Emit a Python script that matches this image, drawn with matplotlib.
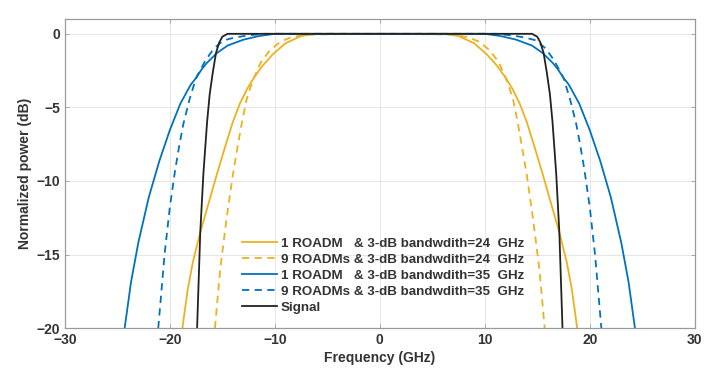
import matplotlib
matplotlib.use("Agg")
import matplotlib.pyplot as plt
import numpy as np

# half-width (GHz) vs. normalized power (dB), curves are symmetric about 0
f_1r24 = [0, 6.0, 7.5, 9.0, 10.2, 11.2, 12.0, 12.6, 13.3, 14.0, 14.7, 15.5, 16.3, 17.1, 17.8, 18.3, 18.8]
p_1r24 = [0, 0, -0.15, -0.65, -1.4, -2.2, -3.0, -3.7, -4.7, -6.0, -7.6, -9.5, -11.5, -13.5, -15.5, -17.4, -20]

f_9r24 = [0, 7.0, 8.5, 9.5, 10.5, 11.3, 12.0, 12.35, 12.7, 13.1, 13.5, 14.0, 14.6, 15.2, 15.7]
p_9r24 = [0, -0.05, -0.25, -0.55, -1.15, -1.9, -3.0, -3.7, -4.5, -5.9, -7.5, -9.6, -12.6, -16.0, -20]

f_1r35 = [0, 10.0, 11.5, 13.0, 14.5, 15.5, 16.5, 17.0, 17.5, 18.0, 19.0, 20.0, 21.0, 22.0, 23.0, 23.7, 24.3]
p_1r35 = [0, 0, -0.15, -0.4, -0.8, -1.3, -2.0, -2.45, -3.0, -3.45, -4.75, -6.55, -8.65, -11.1, -14.2, -16.9, -20]

f_9r35 = [0, 11.0, 12.5, 13.8, 14.9, 15.8, 16.6, 17.5, 18.1, 18.7, 19.1, 19.5, 20.0, 20.5, 21.1]
p_9r35 = [0, 0, -0.1, -0.25, -0.45, -1.0, -1.8, -3.0, -4.4, -6.1, -7.6, -9.3, -11.8, -15.0, -20]

f_sig = [0, 14.5, 15.0, 15.3, 15.6, 15.9, 16.2, 16.45, 16.8, 17.1, 17.4]
p_sig = [0, 0, -0.2, -0.6, -1.3, -2.6, -4.1, -6.0, -9.5, -13.5, -20]

labels = [
    "1 ROADM   & 3-dB bandwdith=24  GHz",
    "9 ROADMs & 3-dB bandwdith=24  GHz",
    "1 ROADM   & 3-dB bandwdith=35  GHz",
    "9 ROADMs & 3-dB bandwdith=35  GHz",
    "Signal",
]

_BLUE = "#0072BD"
_YELLOW = "#EDB120"
_TEXT = "#333333"
_AXIS = "#9a9a9a"


def _mirror(f, p):
    f = np.asarray(f, dtype=float)
    p = np.asarray(p, dtype=float)
    return np.concatenate([-f[::-1], f[1:]]), np.concatenate([p[::-1], p[1:]])


plt.rcParams["font.family"] = ["Liberation Sans", "DejaVu Sans"]
plt.rcParams["font.weight"] = "bold"

fig = plt.figure(figsize=(7.2, 3.82), dpi=100)
ax = fig.add_axes([0.090, 0.141, 0.875, 0.809])

curves = [
    (f_1r24, p_1r24, _YELLOW, "-"),
    (f_9r24, p_9r24, _YELLOW, (0, (4, 3))),
    (f_1r35, p_1r35, _BLUE, "-"),
    (f_9r35, p_9r35, _BLUE, (0, (4, 3))),
    (f_sig, p_sig, "#222222", "-"),
]
for (f, p, c, ls), lab in zip(curves, labels):
    x, y = _mirror(f, p)
    ax.plot(x, y, color=c, linestyle=ls, linewidth=1.3, label=lab)

ax.set_xlim(-30, 30)
ax.set_ylim(-20, 1)
ax.set_xticks(np.arange(-30, 31, 10))
ax.set_yticks(np.arange(-20, 1, 5))
ax.grid(True, color="#e6e6e6", linewidth=0.7)
ax.set_axisbelow(True)

ax.tick_params(direction="in", top=True, right=True, length=3,
               color=_AXIS, labelcolor=_TEXT, labelsize=10, width=0.6)
for s in ax.spines.values():
    s.set_color(_AXIS)
    s.set_linewidth(0.9)

ax.set_xlabel("Frequency (GHz)", fontsize=10, color=_TEXT, fontweight="bold", labelpad=3)
ax.set_ylabel("Normalized power (dB)", fontsize=10, color=_TEXT, fontweight="bold", labelpad=3)

leg = ax.legend(loc="center", bbox_to_anchor=(0.505, 0.17), frameon=False,
                fontsize=9.6, handlelength=2.6, handletextpad=0.3, labelspacing=0.28)
for t in leg.get_texts():
    t.set_color(_TEXT)

fig.savefig("out.png", dpi=100)
